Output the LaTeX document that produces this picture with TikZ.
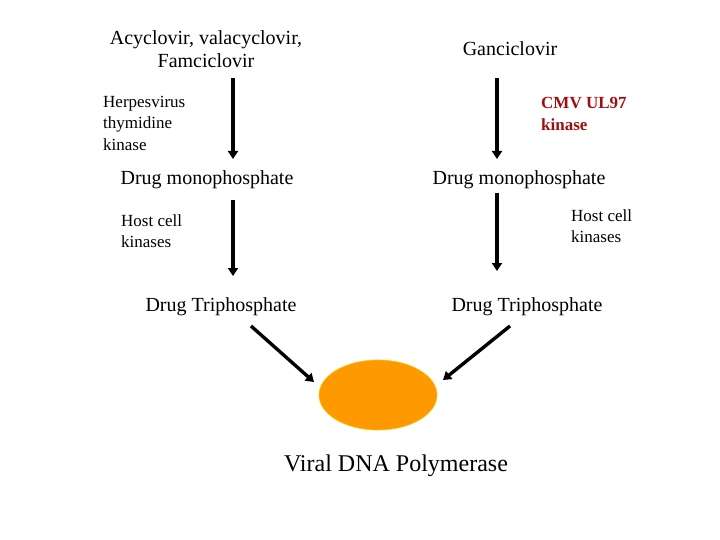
\documentclass[tikz,border=0pt]{standalone}
\usepackage{fontspec}
\setmainfont{Liberation Serif}
\usetikzlibrary{arrows.meta,shapes.geometric}
\definecolor{orng}{HTML}{FF9900}
\definecolor{dred}{HTML}{9E1010}
\begin{document}
\begin{tikzpicture}[x=1pt,y=-1pt,
  lbl/.style={inner sep=0pt,font=\fontsize{20}{23}\selectfont,align=center},
  small/.style={inner sep=0pt,font=\fontsize{17}{21.5}\selectfont,align=left,anchor=west},
  arr/.style={line width=3.4pt,-{Triangle[length=8pt,width=10pt]}}]
\useasboundingbox (0,0) rectangle (720,540);
\node[lbl] (acy) at (206,49) {Acyclovir, valacyclovir,\\Famciclovir};
\node[lbl] (gan) at (510,49) {Ganciclovir};
\node[small] (htk) at (103,123) {Herpesvirus\\thymidine\\kinase};
\node[small,text=dred,font=\bfseries\fontsize{17}{21.5}\selectfont] (cmv) at (541,114) {CMV UL97\\kinase};
\node[lbl] (mpl) at (207,180) {Drug monophosphate};
\node[lbl] (mpr) at (519,180) {Drug monophosphate};
\node[small] (hkl) at (121,231) {Host cell\\kinases};
\node[small] (hkr) at (571,226) {Host cell\\kinases};
\node[lbl] (tpl) at (221,307) {Drug Triphosphate};
\node[lbl] (tpr) at (527,307) {Drug Triphosphate};
\node[ellipse,fill=orng,draw=orng!60!yellow,line width=0.6pt,minimum width=118pt,minimum height=70pt,inner sep=0pt] (pol) at (378,395) {};
\node[lbl,font=\fontsize{24}{28}\selectfont] (vdp) at (396,466) {Viral DNA Polymerase};
\coordinate (a1s) at (233,78); \coordinate (a1e) at (233,159);
\coordinate (a2s) at (497,78); \coordinate (a2e) at (497,159);
\coordinate (a3s) at (233,200); \coordinate (a3e) at (233,276);
\coordinate (a4s) at (497,193); \coordinate (a4e) at (497,271);
\coordinate (d1s) at (251,326); \coordinate (d1e) at (314,382);
\coordinate (d2s) at (510,326); \coordinate (d2e) at (443,380);
\draw[arr] (a1s) -- (a1e);
\draw[arr] (a2s) -- (a2e);
\draw[arr] (a3s) -- (a3e);
\draw[arr] (a4s) -- (a4e);
\draw[arr] (d1s) -- (d1e);
\draw[arr] (d2s) -- (d2e);
\end{tikzpicture}
\end{document}
